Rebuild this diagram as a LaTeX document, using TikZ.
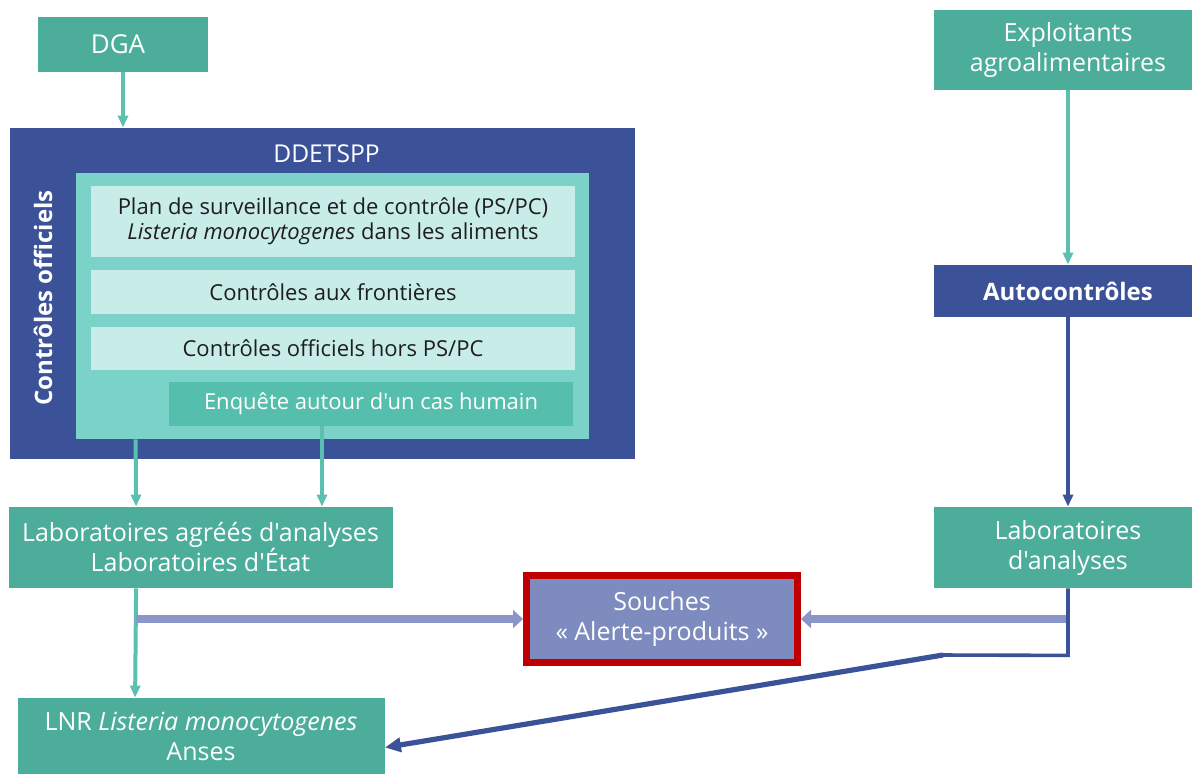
\documentclass[tikz,border=0pt]{standalone}
\usepackage{fontspec}
\setmainfont{Open Sans}[Ligatures=TeXOff]
\usepackage{xcolor}
\usetikzlibrary{positioning, calc, arrows.meta}

\definecolor{tealbox}{RGB}{76,174,154}
\definecolor{tealarrow}{RGB}{92,192,176}
\definecolor{darkblue}{RGB}{60,82,152}
\definecolor{innerteal}{RGB}{122,210,200}
\definecolor{paleteal}{RGB}{200,236,232}
\definecolor{enqteal}{RGB}{86,190,172}
\definecolor{lavfill}{RGB}{125,139,190}
\definecolor{lavline}{RGB}{138,150,200}
\definecolor{alertred}{RGB}{192,0,0}
\definecolor{darktext}{RGB}{30,30,30}

\tikzset{
  box/.style={rectangle, inner sep=0pt, align=center, text=white, fill=tealbox,
    font=\fontsize{12.5}{15}\selectfont},
  palebox/.style={box, fill=paleteal, text=darktext, font=\fontsize{11}{12.5}\selectfont},
  tealline/.style={draw=tealarrow, line width=2pt, -{Triangle[length=6pt,width=5pt]}},
  blueline/.style={draw=darkblue, line width=1.8pt, -{Triangle[length=6pt,width=5pt]}},
  lavline/.style={draw=lavline, line width=4pt, -{Triangle[length=5pt,width=9pt]}}
}

\begin{document}
\begin{tikzpicture}[x=0.5pt,y=0.5pt,yscale=-1,xscale=1]
\useasboundingbox (0,0) rectangle (1192,773);

%Shape: Rectangle [DDETSPP]
\node [box, fill=darkblue, minimum width=312.5pt, minimum height=165.5pt] (ddetspp) at (322.5,293.5) {};
%Shape: Rectangle [inner]
\node [box, fill=innerteal, minimum width=256.5pt, minimum height=133pt] (inner) at (332.5,306) {};

% Text Node
\node [box, fill=tealbox, minimum width=85pt, minimum height=27.5pt, font=\fontsize{13}{15}\selectfont] (dga) at (123,44.5) {\hspace*{-5pt}DGA};
% Text Node
\node [text=white, font=\fontsize{12.3}{14}\selectfont, inner sep=0pt] (ddlabel) at (326.5,154) {DDETSPP};
% Text Node
\node [text=white, font=\bfseries\fontsize{12}{14}\selectfont, inner sep=0pt, rotate=90] (offlabel) at (43,298) {Contrôles officiels};
% Text Node
\node [palebox, minimum width=242pt, minimum height=35.5pt] (plan) at (333,221.5) {Plan de surveillance et de contrôle (PS/PC)\\\textit{Listeria monocytogenes} dans les aliments};
% Text Node
\node [palebox, minimum width=242pt, minimum height=22pt] (front) at (333,292) {Contrôles aux frontières};
% Text Node
\node [palebox, minimum width=242pt, minimum height=21.5pt] (hors) at (333,348.5) {Contrôles officiels hors PS/PC};
% Text Node
\node [box, fill=enqteal, minimum width=202pt, minimum height=22pt, font=\fontsize{11}{12.5}\selectfont] (enq) at (371,404) {Enquête autour d'un cas humain};

% Text Node
\node [box, minimum width=192pt, minimum height=40.5pt] (labagr) at (200.5,547.5) {Laboratoires agréés d'analyses\\Laboratoires d'État};
% Text Node
\node [box, minimum width=183.5pt, minimum height=38pt] (lnr) at (201,736) {LNR \textit{Listeria monocytogenes}\\Anses};
% Text Node
\node [box, fill=lavfill, draw=alertred, line width=3.5pt, minimum width=135.5pt, minimum height=43.5pt] (souches) at (662,619) {Souches\\« Alerte-produits »};

% Text Node
\node [box, minimum width=134pt, minimum height=40pt] (expl) at (1068,50) {Exploitants\\agroalimentaires};
% Text Node
\node [box, fill=darkblue, minimum width=134pt, minimum height=26pt, font=\bfseries\fontsize{12}{14}\selectfont] (auto) at (1068,291) {Autocontrôles};
% Text Node
\node [box, minimum width=134pt, minimum height=40.5pt] (labana) at (1068,547.5) {Laboratoires\\d'analyses};

%Straight Lines
\draw [tealline] (dga.south) -- (dga.south |- ddetspp.north);
\draw [tealline] ($(inner.south west)+(60,0)$) -- ($(labagr.north west)+(128,0)$);
\draw [tealline] (enq.south -| 322,0) -- (labagr.north -| 322,0);
\draw [tealline] ($(labagr.south west)+(128,0)$) coordinate (lfork) -- ($(lnr.north west)+(118,0)$);
\draw [tealline] (expl.south) -- (auto.north);
\draw [blueline] (auto.south) -- (labana.north);

%Straight Lines [alerte]
\coordinate (lav) at (lfork |- souches.west);
\draw [lavline] (lav) -- (souches.west);
\draw [lavline] (labana.south |- souches.east) -- (souches.east);

%Straight Lines [to LNR]
\coordinate (bend) at ($(labana.south)+(0,67)$);
\draw [blueline, -] (labana.south) -- (bend) -- (943,655) coordinate (knee);
\draw [blueline, line width=2.6pt, -{Triangle[length=8pt,width=7pt]}] (knee) -- ($(lnr.east)+(0,11.5)$);

\end{tikzpicture}
\end{document}
